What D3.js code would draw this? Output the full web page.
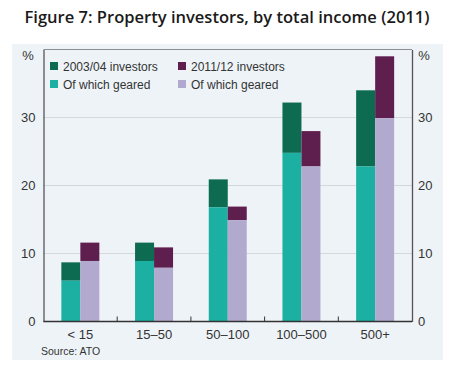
<!DOCTYPE html>
<html>
<head>
<meta charset="utf-8">
<script src="https://cdn.jsdelivr.net/npm/d3@7"></script>
<style>
  body { margin: 0; background: #fff; }
  text { font-family: "Liberation Sans", Arial, sans-serif; fill: #333; }
</style>
</head>
<body>
<svg id="chart" width="453" height="372"></svg>
<script>
const categories = ["< 15", "15–50", "50–100", "100–500", "500+"];
const investors0304 = [8.7, 11.6, 20.9, 32.2, 34.0];
const geared0304 = [6.0, 8.9, 16.8, 24.8, 22.8];
const investors1112 = [11.6, 10.9, 16.9, 28.0, 39.0];
const geared1112 = [8.9, 7.9, 14.9, 22.8, 29.9];
const yTicks = [0, 10, 20, 30];

const svg = d3.select("#chart");

const margin = { top: 49.5, right: 41, bottom: 50.5, left: 43.5 };
const width = 453 - margin.left - margin.right,
      height = 372 - margin.top - margin.bottom;

const colors = {
  inv0304: "#0d6b52",
  ger0304: "#1cb0a2",
  inv1112: "#5f1f4e",
  ger1112: "#b2aace"
};

// title
svg.append("text")
    .attr("x", 227)
    .attr("y", 23)
    .attr("text-anchor", "middle")
    .style("font-family", "'Open Sans', sans-serif")
    .style("font-weight", "600")
    .style("font-size", "16.5px")
    .style("fill", "#1a1a1a")
    .attr("textLength", 405)
    .attr("lengthAdjust", "spacingAndGlyphs")
    .text("Figure 7: Property investors, by total income (2011)");

// panel background
svg.append("rect")
    .attr("x", 12).attr("y", 44)
    .attr("width", 431).attr("height", 316)
    .attr("fill", "#eef3f8");

const g = svg.append("g")
    .attr("transform", `translate(${margin.left},${margin.top})`);

const x = d3.scaleBand()
    .domain(categories)
    .range([0, width]);

const y = d3.scaleLinear()
    .domain([0, 40])
    .range([height, 0]);

// gridlines
g.append("g")
    .selectAll("line")
    .data(yTicks.filter(d => d > 0))
    .enter().append("line")
    .attr("x1", 0).attr("x2", width)
    .attr("y1", d => y(d)).attr("y2", d => y(d))
    .attr("stroke", "#d3d8dd")
    .attr("stroke-width", 1.2);

// frame
g.append("line")
    .attr("x1", 0).attr("x2", width)
    .attr("y1", 0).attr("y2", 0)
    .attr("stroke", "#8a8f95").attr("stroke-width", 1.2);

const barW = 19;
const series = [
  { total: investors0304, geared: geared0304, off: -barW, cTot: colors.inv0304, cGer: colors.ger0304 },
  { total: investors1112, geared: geared1112, off: 0, cTot: colors.inv1112, cGer: colors.ger1112 }
];

series.forEach(s => {
  const grp = g.append("g");
  // total (top part)
  grp.selectAll(".tot")
      .data(categories)
      .enter().append("rect")
      .attr("x", d => x(d) + x.bandwidth() / 2 + s.off)
      .attr("y", (d, i) => y(s.total[i]))
      .attr("width", barW)
      .attr("height", (d, i) => y(s.geared[i]) - y(s.total[i]))
      .attr("fill", s.cTot);
  // geared (bottom part)
  grp.selectAll(".ger")
      .data(categories)
      .enter().append("rect")
      .attr("x", d => x(d) + x.bandwidth() / 2 + s.off)
      .attr("y", (d, i) => y(s.geared[i]))
      .attr("width", barW)
      .attr("height", (d, i) => height - y(s.geared[i]))
      .attr("fill", s.cGer);
});

// axes
const yLeft = d3.axisLeft(y).tickValues(yTicks).tickSize(0).tickPadding(8);
const yRight = d3.axisRight(y).tickValues(yTicks).tickSize(0).tickPadding(6);

const yl = g.append("g").call(yLeft);
const yr = g.append("g").attr("transform", `translate(${width},0)`).call(yRight);
[yl, yr].forEach(a => {
  a.select(".domain").attr("stroke", "#555").attr("stroke-width", 1.3);
  a.selectAll("text")
      .style("font-family", "'Liberation Sans', Arial, sans-serif")
      .style("font-size", "13px")
      .attr("fill", "#333");
});

// bottom axis
g.append("line")
    .attr("x1", 0).attr("x2", width)
    .attr("y1", height).attr("y2", height)
    .attr("stroke", "#333").attr("stroke-width", 1.3);

g.append("g")
    .selectAll("line")
    .data(categories.slice(1))
    .enter().append("line")
    .attr("x1", d => x(d)).attr("x2", d => x(d))
    .attr("y1", height).attr("y2", height - 5)
    .attr("stroke", "#333");

g.append("g")
    .selectAll("text")
    .data(categories)
    .enter().append("text")
    .attr("x", d => x(d) + x.bandwidth() / 2)
    .attr("y", height + 17)
    .attr("text-anchor", "middle")
    .style("font-size", "13px")
    .text(d => d);

// % labels
svg.append("text").attr("x", 28).attr("y", 60).attr("text-anchor", "middle")
    .style("font-size", "13px").text("%");
svg.append("text").attr("x", 424).attr("y", 60).attr("text-anchor", "middle")
    .style("font-size", "13px").text("%");

// legend
const legendItems = [
  { label: "2003/04 investors", color: colors.inv0304, col: 0, row: 0 },
  { label: "2011/12 investors", color: colors.inv1112, col: 1, row: 0 },
  { label: "Of which geared", color: colors.ger0304, col: 0, row: 1 },
  { label: "Of which geared", color: colors.ger1112, col: 1, row: 1 }
];
const legend = svg.append("g");
const li = legend.selectAll("g")
    .data(legendItems)
    .enter().append("g")
    .attr("transform", d => `translate(${50 + d.col * 128},${62 + d.row * 18})`);
li.append("rect")
    .attr("width", 8).attr("height", 8)
    .attr("fill", d => d.color);
li.append("text")
    .attr("x", 13).attr("y", 8.5)
    .style("font-size", "12px")
    .text(d => d.label);

// source
svg.append("text")
    .attr("x", 41).attr("y", 355)
    .style("font-size", "10.5px")
    .text("Source: ATO");
</script>
</body>
</html>
